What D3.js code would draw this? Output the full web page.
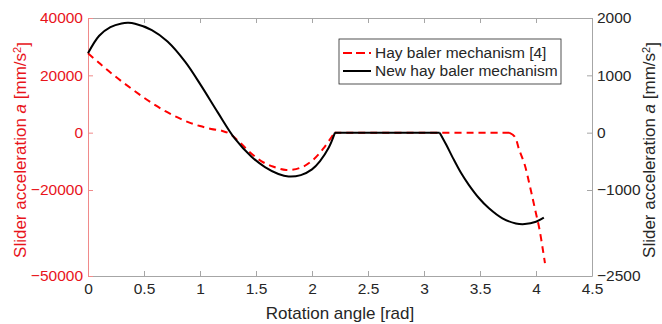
<!DOCTYPE html>
<html>
<head>
<meta charset="utf-8">
<script src="https://cdn.jsdelivr.net/npm/d3@7"></script>
<style>
  body { margin: 0; background: #fff; }
  text { font-family: "Liberation Sans", Arial, sans-serif; }
</style>
</head>
<body>
<div class="chart"></div>
<script>
// Hay baler mechanism [4] (left axis, mm/s^2)
const oldX = [0, 0.1, 0.2, 0.3, 0.4, 0.5, 0.6, 0.7, 0.8, 0.9, 1.0, 1.1, 1.2, 1.27, 1.35, 1.45, 1.55, 1.65, 1.77, 1.9, 2.0, 2.1, 2.2, 3.0, 3.76, 3.81, 3.85, 3.9, 3.94, 3.97, 4.0, 4.03, 4.06, 4.08];
const oldY = [27700, 24300, 21000, 17900, 15000, 12200, 9600, 7300, 5300, 3600, 2300, 1300, 600, -500, -3200, -7000, -10000, -11800, -13000, -12200, -9800, -5600, 0, 0, 0, -1400, -6000, -11300, -17700, -22900, -28200, -33500, -40500, -45500];
const oldBreaks = [2.2, 3.76];

// New hay baler mechanism (right axis, mm/s^2)
const newX = [0, 0.1, 0.2, 0.3, 0.36, 0.42, 0.57, 0.71, 0.87, 1.01, 1.16, 1.31, 1.46, 1.58, 1.7, 1.79, 1.9, 2.0, 2.07, 2.15, 2.205, 3.14, 3.2, 3.26, 3.33, 3.4, 3.49, 3.58, 3.7, 3.82, 3.9, 4.0, 4.07];
const newY = [1384, 1690, 1840, 1905, 1915, 1900, 1790, 1590, 1230, 820, 350, -100, -420, -600, -720, -765, -740, -640, -500, -260, 0, 0, -215, -448, -700, -910, -1140, -1320, -1495, -1583, -1594, -1553, -1483];
const newBreaks = [2.205, 3.14];

const xTicks = [0, 0.5, 1, 1.5, 2, 2.5, 3, 3.5, 4, 4.5];
const leftTicks = [40000, 20000, 0, -20000, -50000];
const rightTicks = [2000, 1000, 0, -1000, -2500];
const legendLabels = ['Hay baler mechanism [4]', 'New hay baler mechanism'];

const width = 662;
const height = 324;
const margin = { top: 18, right: 70, bottom: 48, left: 88 };
const red = '#ff0000';
const redText = '#e8141b';
const dark = '#262626';
const axisGray = '#a6a6a6';

const svg = d3.select('.chart').append('svg')
  .attr('width', width)
  .attr('height', height);

const x = d3.scaleLinear().domain([0, 4.5]).range([margin.left, width - margin.right]);
const yL = d3.scaleLinear().domain([-50000, 40000]).range([height - margin.bottom, margin.top]);
const yR = d3.scaleLinear().domain([-2500, 2000]).range([height - margin.bottom, margin.top]);

const x0 = x(0), x1 = x(4.5), yTop = yL(40000), yBot = yL(-50000);

// axes
const fmtX = (d) => d3.format('~g')(d);

const gBottom = svg.append('g').attr('transform', `translate(0,${yBot})`)
  .call(d3.axisBottom(x).tickValues(xTicks).tickFormat(fmtX).tickSizeInner(-5).tickSizeOuter(0).tickPadding(10));
const gTop = svg.append('g').attr('transform', `translate(0,${yTop})`)
  .call(d3.axisTop(x).tickValues(xTicks).tickFormat('').tickSizeInner(-5).tickSizeOuter(0));
const gLeft = svg.append('g').attr('transform', `translate(${x0},0)`)
  .call(d3.axisLeft(yL).tickValues(leftTicks).tickFormat(d3.format('d')).tickSizeInner(-5).tickSizeOuter(0).tickPadding(5));
const gRight = svg.append('g').attr('transform', `translate(${x1},0)`)
  .call(d3.axisRight(yR).tickValues(rightTicks).tickFormat(d3.format('d')).tickSizeInner(-5).tickSizeOuter(0).tickPadding(5));

[gBottom, gTop, gRight].forEach((g) => {
  g.select('.domain').attr('stroke', axisGray);
  g.selectAll('.tick line').attr('stroke', axisGray);
  g.selectAll('.tick text').attr('fill', dark).style('font-size', '15.5px');
});
gLeft.select('.domain').attr('stroke', '#f08a8a');
gLeft.selectAll('.tick line').attr('stroke', '#f08a8a');
gLeft.selectAll('.tick text').attr('fill', redText).style('font-size', '15.5px');
gBottom.selectAll('.tick text').attr('dy', '0.5em');

// split a series at its corner points so each smooth piece is drawn on its own
function pieces(xs, ys, breaks) {
  const pts = d3.zip(xs, ys);
  const out = [[]];
  pts.forEach((p) => {
    out[out.length - 1].push(p);
    if (breaks.includes(p[0])) out.push([p]);
  });
  return out.filter((s) => s.length > 1);
}

const lineOld = d3.line().x((d) => x(d[0])).y((d) => yL(d[1])).curve(d3.curveCatmullRom.alpha(0.5));
const lineNew = d3.line().x((d) => x(d[0])).y((d) => yR(d[1])).curve(d3.curveCatmullRom.alpha(0.5));

const oldPath = pieces(oldX, oldY, oldBreaks).map((s) => lineOld(s)).join('');
const newPath = pieces(newX, newY, newBreaks).map((s) => lineNew(s)).join('');

svg.append('path')
  .attr('fill', 'none')
  .attr('stroke', red)
  .attr('stroke-width', 2)
  .attr('stroke-dasharray', '7,5')
  .attr('d', oldPath);

svg.append('path')
  .attr('fill', 'none')
  .attr('stroke', '#000')
  .attr('stroke-width', 2)
  .attr('d', newPath);

// axis labels
svg.append('text')
  .attr('x', (x0 + x1) / 2)
  .attr('y', 319)
  .attr('text-anchor', 'middle')
  .attr('fill', dark)
  .style('font-size', '17px')
  .text('Rotation angle [rad]');

function yLabel(xPos, color) {
  const t = svg.append('text')
    .attr('transform', `translate(${xPos},${(yTop + yBot) / 2 + 3}) rotate(-90)`)
    .attr('text-anchor', 'middle')
    .attr('fill', color)
    .style('font-size', '17px');
  t.append('tspan').text('Slider acceleration ');
  t.append('tspan').style('font-style', 'italic').text('a');
  t.append('tspan').text(' [mm/s');
  t.append('tspan').attr('dy', '-0.45em').style('font-size', '11px').text('2');
  t.append('tspan').attr('dy', '0.45em').text(']');
}
yLabel(26, redText);
yLabel(655, dark);

// legend
const leg = svg.append('g').attr('transform', 'translate(339,39)');
leg.append('rect')
  .attr('width', 222)
  .attr('height', 45)
  .attr('fill', '#fff')
  .attr('stroke', dark)
  .attr('stroke-width', 0.8);

const legRows = leg.selectAll('.row')
  .data(legendLabels)
  .enter()
  .append('g')
  .attr('class', 'row')
  .attr('transform', (d, i) => `translate(0,${14 + i * 18})`);

legRows.append('line')
  .attr('x1', 4)
  .attr('x2', 32)
  .attr('stroke', (d, i) => (i === 0 ? red : '#000'))
  .attr('stroke-width', 2)
  .attr('stroke-dasharray', (d, i) => (i === 0 ? '9,4' : null));

legRows.append('text')
  .attr('x', 36)
  .attr('dy', '0.35em')
  .attr('fill', dark)
  .style('font-size', '15.5px')
  .text((d) => d);
</script>
</body>
</html>
